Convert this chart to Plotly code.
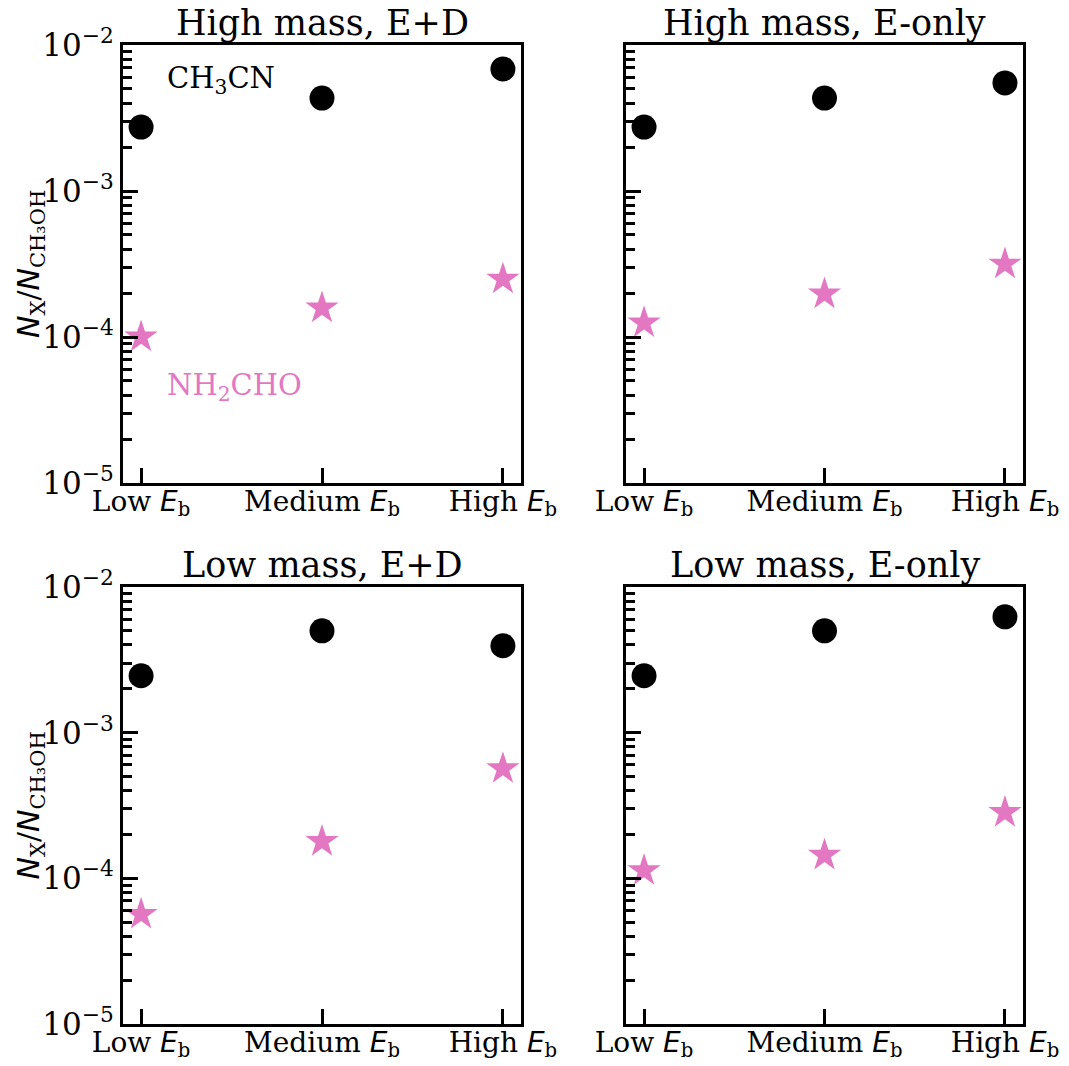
import plotly.graph_objects as go

categories = ["Low", "Medium", "High"]
panel_titles = ["High mass, E+D", "High mass, E-only", "Low mass, E+D", "Low mass, E-only"]

ch3cn = [
    [2.74e-3, 4.33e-3, 6.85e-3],
    [2.74e-3, 4.33e-3, 5.5e-3],
    [2.46e-3, 5.0e-3, 3.95e-3],
    [2.46e-3, 5.0e-3, 6.24e-3],
]
nh2cho = [
    [1.0e-4, 1.58e-4, 2.49e-4],
    [1.25e-4, 1.97e-4, 3.16e-4],
    [5.66e-5, 1.79e-4, 5.66e-4],
    [1.13e-4, 1.44e-4, 2.83e-4],
]
ytick_vals = [1e-5, 1e-4, 1e-3, 1e-2]
ytick_text = ["10<sup>\u22125</sup>", "10<sup>\u22124</sup>", "10<sup>\u22123</sup>", "10<sup>\u22122</sup>"]

PINK = "#e377c2"
SERIF = "DejaVu Serif"
W, H = 1069, 1066

xdoms = [[123 / W, 521 / W], [626 / W, 1023 / W]]
ydoms = [[1 - 483 / H, 1 - 45 / H], [1 - 1024 / H, 1 - 587 / H]]

minor_vals = [k * 10 ** e for e in range(-5, -2) for k in range(2, 10)]
xpos = list(range(len(categories)))
xtext = [f"{c} <span style='font-family:DejaVu Sans'><i>E</i></span><sub>b</sub>" for c in categories]

fig = go.Figure()
for i in range(4):
    r, c = divmod(i, 2)
    ax = "" if i == 0 else str(i + 1)
    fig.add_trace(go.Scatter(x=xpos, y=ch3cn[i], mode="markers",
                             marker=dict(symbol="circle", size=25, color="black"),
                             xaxis="x" + ax, yaxis="y" + ax, showlegend=False))
    fig.add_trace(go.Scatter(x=xpos, y=nh2cho[i], mode="markers",
                             marker=dict(symbol="star", size=25, color=PINK, line=dict(width=0)),
                             xaxis="x" + ax, yaxis="y" + ax, showlegend=False))
    fig.layout["xaxis" + ax] = dict(
        domain=xdoms[c], anchor="y" + ax, range=[-0.1, 2.1], automargin=False,
        tickvals=xpos, ticktext=xtext, ticks="inside", ticklen=15, tickwidth=2.5,
        tickcolor="black", showline=True, linewidth=3, linecolor="black", mirror=True,
        showgrid=False, zeroline=False, ticklabelstandoff=-9,
        tickfont=dict(family=SERIF, size=28, color="black"),
    )
    fig.layout["yaxis" + ax] = dict(
        domain=ydoms[r], anchor="x" + ax, type="log", range=[-5, -2], automargin=False,
        tickvals=ytick_vals, ticktext=ytick_text if c == 0 else ["", "", "", ""],
        ticks="inside", ticklen=15, tickwidth=2.5, tickcolor="black",
        minor=dict(tickvals=minor_vals, ticks="inside", ticklen=9, tickwidth=2.5, tickcolor="black", showgrid=False),
        showline=True, linewidth=3, linecolor="black", mirror=True,
        showgrid=False, zeroline=False,
        tickfont=dict(family=SERIF, size=31, color="black"),
    )
    fig.add_annotation(text=panel_titles[i], xref="paper", yref="paper",
                       x=(xdoms[c][0] + xdoms[c][1]) / 2, y=ydoms[r][1],
                       xanchor="center", yanchor="bottom", yshift=0, showarrow=False,
                       font=dict(family=SERIF, size=35, color="black"))
    if c == 0:
        fig.add_annotation(
            text="<span style='font-family:DejaVu Sans'><i>N</i></span><sub>X</sub>/"
                 "<span style='font-family:DejaVu Sans'><i>N</i></span><sub>CH\u2083OH</sub>",
            xref="paper", yref="paper", x=30 / W, y=(ydoms[r][0] + ydoms[r][1]) / 2,
            textangle=-90, showarrow=False, xanchor="center", yanchor="middle",
            font=dict(family=SERIF, size=30, color="black"))

fig.add_annotation(text="CH<sub>3</sub>CN", xref="x domain", yref="y domain",
                   x=0.105, y=0.92, xanchor="left", yanchor="middle", showarrow=False,
                   font=dict(family=SERIF, size=29, color="black"))
fig.add_annotation(text="NH<sub>2</sub>CHO", xref="x domain", yref="y domain",
                   x=0.105, y=0.22, xanchor="left", yanchor="middle", showarrow=False,
                   font=dict(family=SERIF, size=29, color=PINK))

fig.update_layout(width=W, height=H, margin=dict(l=0, r=0, t=0, b=0),
                  paper_bgcolor="white", plot_bgcolor="white")
fig.write_html("out.html")
